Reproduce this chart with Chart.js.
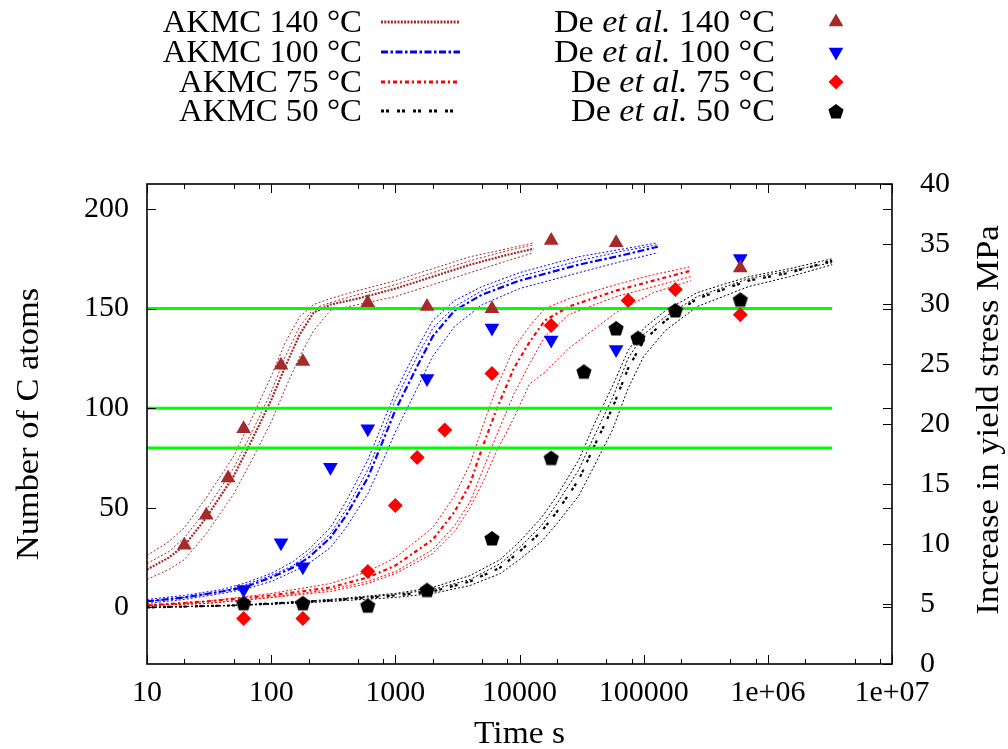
<!DOCTYPE html>
<html>
<head>
<meta charset="utf-8">
<script src="https://cdn.jsdelivr.net/npm/chart.js@4.4.1/dist/chart.umd.min.js"></script>
<style>
html, body { margin: 0; padding: 0; background: #ffffff; }
#c { display: block; }
</style>
</head>
<body>
<canvas id="c" width="1008" height="749"></canvas>
<script>
// ---------------- data ----------------
const FONT_FAMILY = "'Liberation Serif', 'Times New Roman', serif";

const tempLabels = ['140 °C', '100 °C', '75 °C', '50 °C'];
const tempColors = ['#a52a2a', '#0000ff', '#ff0000', '#000000'];

// AKMC 140 °C (several runs, N carbon atoms vs time)
const akmcT140 = [10, 15, 20, 30, 50, 70, 100, 130, 170, 220, 300, 500, 1000, 2000, 4000, 8000, 13000];
const akmc140Main = [19, 25, 31, 45, 66, 84, 104, 121, 137, 148, 152, 155, 160, 166, 172, 177, 180];
const akmc140RunA = [26, 33, 40, 55, 76, 95, 116, 133, 146, 152, 155, 159, 164, 170, 176, 180, 183];
const akmc140RunB = [14, 19, 24, 37, 57, 74, 93, 110, 126, 139, 149, 152, 156, 162, 168, 174, 178];
const akmc140RunC = [22, 28, 35, 49, 70, 88, 108, 126, 141, 150, 153, 157, 162, 168, 174, 179, 182];

// AKMC 100 °C
const akmcT100 = [10, 20, 40, 60, 100, 150, 200, 300, 400, 600, 800, 1000, 1500, 2000, 3000, 5000, 10000, 30000, 70000, 130000];
const akmc100Main = [3, 5, 8, 10, 15, 20, 25, 35, 46, 65, 84, 99, 121, 136, 149, 157, 164, 172, 177, 181];
const akmc100RunA = [4, 6, 9, 12, 17, 23, 29, 40, 53, 74, 93, 108, 130, 144, 154, 161, 168, 176, 180, 183];
const akmc100RunB = [2, 4, 7, 9, 13, 18, 22, 30, 40, 57, 74, 88, 110, 126, 141, 152, 160, 168, 174, 178];
const akmc100RunC = [3, 5, 8, 11, 16, 21, 27, 37, 49, 69, 88, 104, 126, 140, 151, 159, 166, 174, 179, 182];

// AKMC 75 °C
const akmcT75 = [10, 30, 100, 300, 600, 1000, 2000, 3000, 4000, 5000, 6500, 9000, 12000, 16000, 25000, 60000, 120000, 240000];
const akmc75Main = [1, 3, 6, 10, 15, 21, 34, 48, 62, 80, 99, 120, 133, 144, 151, 159, 164, 169];
const akmc75RunA = [1, 3, 7, 12, 18, 25, 40, 56, 72, 90, 110, 130, 141, 150, 155, 162, 167, 171];
const akmc75RunB = [1, 2, 5, 9, 13, 18, 29, 41, 53, 68, 86, 107, 122, 136, 147, 156, 161, 166];
const akmc75RunC = [1, 2, 5, 8, 12, 17, 27, 38, 50, 62, 78, 95, 112, 118, 130, 148, 158, 164];

// AKMC 50 °C
const akmcT50 = [10, 50, 100, 300, 1000, 2000, 4000, 7000, 10000, 15000, 20000, 30000, 40000, 56000, 75000, 100000, 150000, 270000, 700000, 1500000, 3300000];
const akmc50Main = [0, 1, 2, 3.5, 6, 8, 13, 20, 28, 38, 48, 64, 81, 100, 120, 134, 144, 155, 164, 168, 174];
const akmc50RunA = [0, 1, 2, 4, 7, 10, 16, 24, 33, 45, 56, 74, 92, 111, 129, 140, 149, 158, 166, 170, 175];
const akmc50RunB = [0, 1, 1.5, 3, 5, 7, 11, 17, 24, 33, 42, 56, 71, 89, 110, 126, 139, 151, 161, 166, 172];
const akmc50RunC = [0, 1, 2, 3.5, 6.5, 9, 14, 22, 30, 41, 52, 69, 86, 105, 125, 137, 146, 156, 165, 169, 173];

// De et al. (increase in yield stress, MPa, right axis)
const deT140 = [20, 30, 45, 60, 120, 180, 600, 1800, 6000, 18000, 60000, 600000];
const deY140 = [9.9, 12.4, 15.5, 19.6, 24.9, 25.2, 30.1, 29.8, 29.6, 35.3, 35.1, 33.0];
const deT100 = [60, 120, 180, 300, 600, 1800, 6000, 18000, 60000, 600000];
const deY100 = [6.2, 10.1, 8.1, 16.4, 19.6, 23.8, 28.0, 27.0, 26.2, 33.8];
const deT75 = [60, 180, 600, 1000, 1500, 2500, 6000, 18000, 75000, 180000, 600000];
const deY75 = [3.8, 3.8, 7.7, 13.2, 17.2, 19.5, 24.2, 28.2, 30.3, 31.2, 29.1];
const deT50 = [60, 180, 600, 1800, 6000, 18000, 33000, 60000, 90000, 180000, 600000];
const deY50 = [5.1, 5.1, 4.9, 6.2, 10.5, 17.2, 24.4, 28.0, 27.2, 29.5, 30.4];

// horizontal reference levels (left axis)
const greenLevels = [80, 100, 150];
const greenSpan = [10, 3300000];

// axes
const xTickVals = [10, 100, 1000, 10000, 100000, 1000000, 10000000];
const xTickLabels = ['10', '100', '1000', '10000', '100000', '1e+06', '1e+07'];
const xMinorMult = [2, 5, 8];
const yTicks = [0, 50, 100, 150, 200];
const y2Ticks = [0, 5, 10, 15, 20, 25, 30, 35, 40];
const yRange = [-28.4, 212.5];
const y2Range = [0, 40];
const xTitle = 'Time s';
const yTitle = 'Number of C atoms';
const y2Title = 'Increase in yield stress MPa';

// ---------------- build datasets ----------------
const pts = (xs, ys) => xs.map((x, i) => ({ x: x, y: ys[i] }));

const legendDash = [[2, 1.3], [7, 2.5, 2.5, 2.5], [4, 3, 2, 3], [3, 2, 3, 8]];
const akmcSets = [
  { t: akmcT140, runs: [akmc140RunA, akmc140RunB, akmc140RunC], main: akmc140Main },
  { t: akmcT100, runs: [akmc100RunA, akmc100RunB, akmc100RunC], main: akmc100Main },
  { t: akmcT75, runs: [akmc75RunA, akmc75RunB, akmc75RunC], main: akmc75Main },
  { t: akmcT50, runs: [akmc50RunA, akmc50RunB, akmc50RunC], main: akmc50Main }
];

function pentagonImage(r, color) {
  const s = Math.ceil(2 * r + 2);
  const c = document.createElement('canvas');
  c.width = s; c.height = s;
  const g = c.getContext('2d');
  g.fillStyle = color;
  g.beginPath();
  for (let i = 0; i < 5; i++) {
    const a = -Math.PI / 2 + i * 2 * Math.PI / 5;
    g.lineTo(s / 2 + r * Math.cos(a), s / 2 + 1 + r * Math.sin(a));
  }
  g.closePath();
  g.fill();
  return c;
}

const markerStyles = [
  { pointStyle: 'triangle', rotation: 0, radius: 8.5 },
  { pointStyle: 'triangle', rotation: 180, radius: 8.5 },
  { pointStyle: 'rectRot', rotation: 0, radius: 7.5 },
  { pointStyle: pentagonImage(8, '#000000'), rotation: 0, radius: 8 }
];
const deSets = [[deT140, deY140], [deT100, deY100], [deT75, deY75], [deT50, deY50]];

const datasets = [];
akmcSets.forEach((s, k) => {
  s.runs.forEach((run, j) => {
    datasets.push({
      label: 'AKMC ' + tempLabels[k] + ' run ' + (j + 1),
      data: pts(s.t, run), showLine: true, pointRadius: 0,
      borderColor: tempColors[k], borderWidth: 1, borderDash: [2, 2],
      yAxisID: 'y', order: 10 - k, tension: 0
    });
  });
  datasets.push({
    label: 'AKMC ' + tempLabels[k],
    data: pts(s.t, s.main), showLine: true, pointRadius: 0,
    borderColor: tempColors[k], borderWidth: 2.2, borderDash: legendDash[k],
    yAxisID: 'y', order: 10 - k, tension: 0, isLegendLine: true, legendIndex: k
  });
});
greenLevels.forEach(v => {
  datasets.push({
    label: 'level ' + v,
    data: pts(greenSpan, [v, v]), showLine: true, pointRadius: 0,
    borderColor: '#00ff00', borderWidth: 3, yAxisID: 'y', order: 2
  });
});
deSets.forEach((d, k) => {
  datasets.push({
    label: 'De et al. ' + tempLabels[k],
    data: pts(d[0], d[1]), showLine: false,
    pointStyle: markerStyles[k].pointStyle, rotation: markerStyles[k].rotation,
    pointRadius: markerStyles[k].radius, pointBackgroundColor: tempColors[k],
    pointBorderWidth: 0, borderColor: tempColors[k], backgroundColor: tempColors[k],
    yAxisID: 'y2', order: 1, isLegendMarker: true, legendIndex: k
  });
});

// ---------------- text helpers ----------------
const TEXT_FONT = '31px ' + FONT_FAMILY;
const TEXT_ITALIC = 'italic 31px ' + FONT_FAMILY;

// draw a sequence of [text, font] pieces, right aligned at xRight, widened by sx
function drawPiecesRight(ctx, pieces, xRight, yBase, sx) {
  const ws = pieces.map(p => { ctx.font = p[1]; return ctx.measureText(p[0]).width; });
  const total = ws.reduce((a, b) => a + b, 0);
  ctx.save();
  ctx.translate(xRight - total * sx, yBase);
  ctx.scale(sx, 1);
  ctx.textAlign = 'left';
  ctx.textBaseline = 'alphabetic';
  let x = 0;
  pieces.forEach((p, i) => { ctx.font = p[1]; ctx.fillText(p[0], x, 0); x += ws[i]; });
  ctx.restore();
}
function drawCentered(ctx, text, cx, cy, rot, sx) {
  ctx.save();
  ctx.translate(cx, cy);
  ctx.rotate(rot);
  ctx.scale(sx, 1);
  ctx.font = TEXT_FONT;
  ctx.textAlign = 'center';
  ctx.textBaseline = 'middle';
  ctx.fillText(text, 0, 0);
  ctx.restore();
}

// ---------------- plugin: gnuplot-like frame, titles, legend ----------------
const framePlugin = {
  id: 'gnuplotFrame',
  afterDraw(chart) {
    const ctx = chart.ctx;
    const { left, right, top, bottom } = chart.chartArea;
    const xs = chart.scales.x, ys = chart.scales.y, y2s = chart.scales.y2;
    ctx.save();
    ctx.strokeStyle = '#000';
    ctx.lineWidth = 1;
    ctx.beginPath();
    xTickVals.forEach((v, i) => {
      const px = Math.round(xs.getPixelForValue(v)) + 0.5;
      ctx.moveTo(px, bottom); ctx.lineTo(px, bottom - 9);
      ctx.moveTo(px, top); ctx.lineTo(px, top + 9);
      if (i < xTickVals.length - 1) {
        xMinorMult.forEach(m => {
          const q = Math.round(xs.getPixelForValue(v * m)) + 0.5;
          ctx.moveTo(q, bottom); ctx.lineTo(q, bottom - 5);
          ctx.moveTo(q, top); ctx.lineTo(q, top + 5);
        });
      }
    });
    yTicks.forEach(v => {
      const py = Math.round(ys.getPixelForValue(v)) + 0.5;
      ctx.moveTo(left, py); ctx.lineTo(left + 9, py);
      ctx.moveTo(right, py); ctx.lineTo(right - 9, py);
    });
    y2Ticks.forEach(v => {
      const py = Math.round(y2s.getPixelForValue(v)) + 0.5;
      ctx.moveTo(right, py); ctx.lineTo(right - 9, py);
    });
    ctx.stroke();
    ctx.lineWidth = 1.6;
    ctx.strokeRect(left, top, right - left, bottom - top);

    // axis titles
    ctx.fillStyle = '#000';
    drawCentered(ctx, xTitle, (left + right) / 2, 735, 0, 1.08);
    drawCentered(ctx, yTitle, 30, (top + bottom) / 2, -Math.PI / 2, 1.11);
    drawCentered(ctx, y2Title, 990, 420, -Math.PI / 2, 1.12);
    ctx.restore();

    // legend (two columns)
    const rowsY = [22, 52, 82, 111];
    ctx.save();
    chart.data.datasets.forEach(ds => {
      if (ds.isLegendLine) {
        const y = rowsY[ds.legendIndex];
        ctx.fillStyle = '#000';
        drawPiecesRight(ctx, [[ds.label, TEXT_FONT]], 362, y + 10, 1.06);
        ctx.save();
        ctx.strokeStyle = ds.borderColor; ctx.lineWidth = 3;
        ctx.setLineDash(ds.borderDash);
        ctx.beginPath(); ctx.moveTo(381, y); ctx.lineTo(460, y); ctx.stroke();
        ctx.restore();
      }
      if (ds.isLegendMarker) {
        const y = rowsY[ds.legendIndex];
        ctx.fillStyle = '#000';
        drawPiecesRight(ctx, [['De ', TEXT_FONT], ['et al.', TEXT_ITALIC], [' ' + tempLabels[ds.legendIndex], TEXT_FONT]], 775, y + 10, 1.1);
        ctx.fillStyle = ds.pointBackgroundColor;
        Chart.helpers.drawPoint(ctx, {
          pointStyle: ds.pointStyle, rotation: ds.rotation, radius: ds.pointRadius, borderWidth: 0
        }, 836, y);
      }
    });
    ctx.restore();
  }
};

const tickFont = { family: FONT_FAMILY, size: 30, lineHeight: 1.2 };

new Chart(document.getElementById('c'), {
  type: 'scatter',
  data: { datasets: datasets },
  options: {
    responsive: false,
    animation: false,
    devicePixelRatio: 1,
    events: [],
    layout: { padding: { top: 184, left: 0, right: 0, bottom: 0 } },
    plugins: { legend: { display: false }, tooltip: { enabled: false } },
    elements: { line: { borderCapStyle: 'butt' } },
    scales: {
      x: {
        type: 'logarithmic', position: 'bottom', min: xTickVals[0], max: xTickVals[xTickVals.length - 1],
        grid: { display: false, drawTicks: false }, border: { display: false },
        afterBuildTicks: s => { s.ticks = xTickVals.map(v => ({ value: v })); },
        afterFit: s => { s.height = 85; },
        ticks: {
          autoSkip: false, maxRotation: 0, minRotation: 0, padding: 11, color: '#000', font: tickFont,
          callback: (v, i) => xTickLabels[i]
        }
      },
      y: {
        position: 'left', min: yRange[0], max: yRange[1],
        grid: { display: false, drawTicks: false }, border: { display: false },
        afterBuildTicks: s => { s.ticks = yTicks.map(v => ({ value: v })); },
        afterFit: s => { s.width = 147; },
        ticks: { padding: 18, color: '#000', font: tickFont }
      },
      y2: {
        position: 'right', min: y2Range[0], max: y2Range[1],
        grid: { display: false, drawTicks: false }, border: { display: false },
        afterBuildTicks: s => { s.ticks = y2Ticks.map(v => ({ value: v })); },
        afterFit: s => { s.width = 116; },
        ticks: { padding: 28, color: '#000', font: tickFont }
      }
    }
  },
  plugins: [framePlugin]
});
</script>
</body>
</html>
